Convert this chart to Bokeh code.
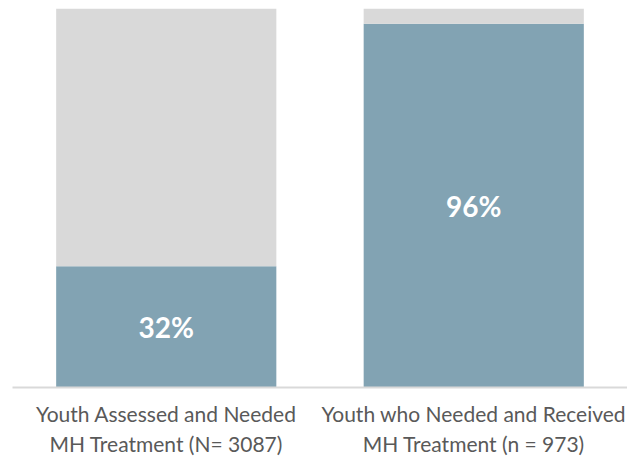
from bokeh.plotting import figure
from bokeh.models import ColumnDataSource, FactorRange, Range1d, LabelSet
from bokeh.embed import file_html
from bokeh.resources import INLINE
from bokeh.core.properties import value

categories = ["Youth Assessed and Needed\nMH Treatment (N= 3087)",
              "Youth who Needed and Received\nMH Treatment (n = 973)"]
pct_yes = [0.32, 0.96]
pct_no = [0.68, 0.04]
labels = ["32%", "96%"]

src = ColumnDataSource(dict(
    cat=categories, yes=pct_yes, no=pct_no, label=labels,
    mid=[v / 2 for v in pct_yes],
))

p = figure(x_range=FactorRange(*categories, range_padding=0), y_range=Range1d(0, 1),
           frame_width=615, frame_height=379, output_backend="svg", toolbar_location=None,
           min_border_left=12, min_border_right=0, min_border_top=8, min_border_bottom=0)

p.vbar_stack(["yes", "no"], x="cat", width=0.716, source=src,
             color=["#82A3B3", "#D9D9D9"], line_color=None)

lbl = LabelSet(x="cat", y="mid", text="label", source=src, text_color="white",
               text_font=value("Lato"), text_font_style="bold", text_font_size="28px",
               text_align="center", text_baseline="middle")
p.add_layout(lbl)

p.yaxis.visible = False
p.xgrid.visible = False
p.ygrid.visible = False
p.outline_line_color = None
p.xaxis.axis_line_color = "#D9D9D9"
p.xaxis.axis_line_width = 2
p.xaxis.major_tick_line_color = None
p.xaxis.minor_tick_line_color = None
p.xaxis.major_tick_out = 0
p.xaxis.major_label_text_font = "Lato"
p.xaxis.major_label_text_font_size = "21px"
p.xaxis.major_label_text_color = "#595959"
p.xaxis.major_label_standoff = 13

open("out.html", "w").write(file_html(p, INLINE))
